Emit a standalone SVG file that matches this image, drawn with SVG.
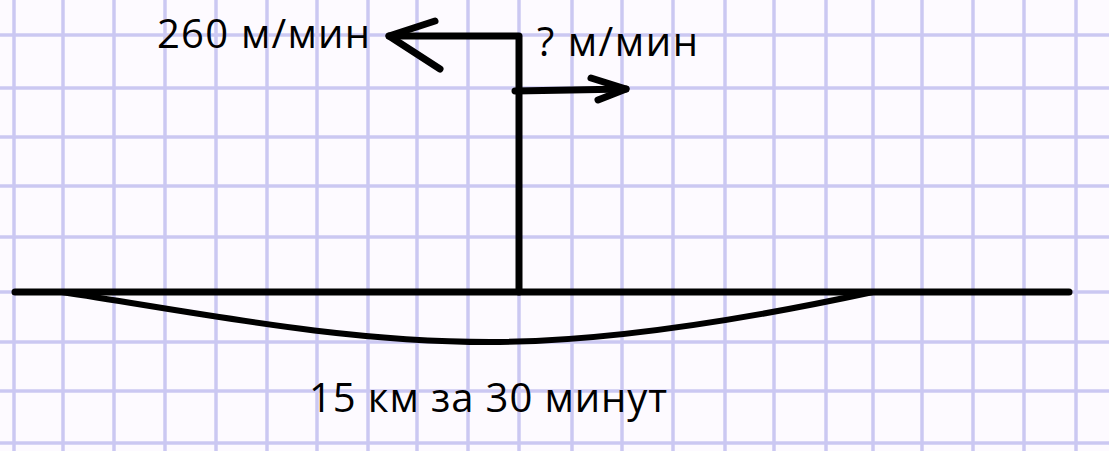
<svg xmlns="http://www.w3.org/2000/svg" width="1109" height="451" viewBox="0 0 1109 451">
<style>
.grid line{stroke:#cbc8f2;stroke-width:3.5}
.ink{stroke:#000;stroke-width:7;stroke-linecap:round;stroke-linejoin:round;fill:none}
.lbl{font-family:"Open Sans","Noto Sans","DejaVu Sans",sans-serif;font-size:40px;fill:#000}
</style>
<rect x="0" y="0" width="1109" height="451" fill="#fdfaff"/>
<g id="grid" class="grid">
<line x1="14" y1="0" x2="14" y2="451"/>
<line x1="63" y1="0" x2="63" y2="451"/>
<line x1="114" y1="0" x2="114" y2="451"/>
<line x1="165" y1="0" x2="165" y2="451"/>
<line x1="216" y1="0" x2="216" y2="451"/>
<line x1="267" y1="0" x2="267" y2="451"/>
<line x1="317" y1="0" x2="317" y2="451"/>
<line x1="368" y1="0" x2="368" y2="451"/>
<line x1="417" y1="0" x2="417" y2="451"/>
<line x1="468" y1="0" x2="468" y2="451"/>
<line x1="519" y1="0" x2="519" y2="451"/>
<line x1="572" y1="0" x2="572" y2="451"/>
<line x1="622" y1="0" x2="622" y2="451"/>
<line x1="673" y1="0" x2="673" y2="451"/>
<line x1="725" y1="0" x2="725" y2="451"/>
<line x1="774" y1="0" x2="774" y2="451"/>
<line x1="826" y1="0" x2="826" y2="451"/>
<line x1="873" y1="0" x2="873" y2="451"/>
<line x1="922" y1="0" x2="922" y2="451"/>
<line x1="973" y1="0" x2="973" y2="451"/>
<line x1="1024" y1="0" x2="1024" y2="451"/>
<line x1="1076" y1="0" x2="1076" y2="451"/>
<line x1="0" y1="35" x2="1109" y2="35"/>
<line x1="0" y1="88" x2="1109" y2="88"/>
<line x1="0" y1="137" x2="1109" y2="137"/>
<line x1="0" y1="186" x2="1109" y2="186"/>
<line x1="0" y1="237" x2="1109" y2="237"/>
<line x1="0" y1="292" x2="1109" y2="292"/>
<line x1="0" y1="342" x2="1109" y2="342"/>
<line x1="0" y1="391" x2="1109" y2="391"/>
<line x1="0" y1="443" x2="1109" y2="443"/>
</g>
<g id="connectors">
<path class="ink" d="M15,292 L1069,292"/>
<path class="ink" style="stroke-width:6" d="M62,292 C200,313 340,342 490,342 C620,342 780,312 873,292"/>
<path class="ink" d="M519,292 L519,36 L389,36"/>
<path class="ink" d="M435,21 L389,36 L440,69"/>
<path class="ink" d="M515,91 L626,89"/>
<path class="ink" d="M591,78 L626,89 L598,100"/>
</g>
<g id="label-260">
<text class="lbl" x="157" y="48" textLength="213">260 м/мин</text>
</g>
<g id="label-unknown">
<text class="lbl" x="537" y="56" textLength="161">? м/мин</text>
</g>
<g id="label-distance">
<text class="lbl" x="309" y="412" textLength="358">15 км за 30 минут</text>
</g>
</svg>
